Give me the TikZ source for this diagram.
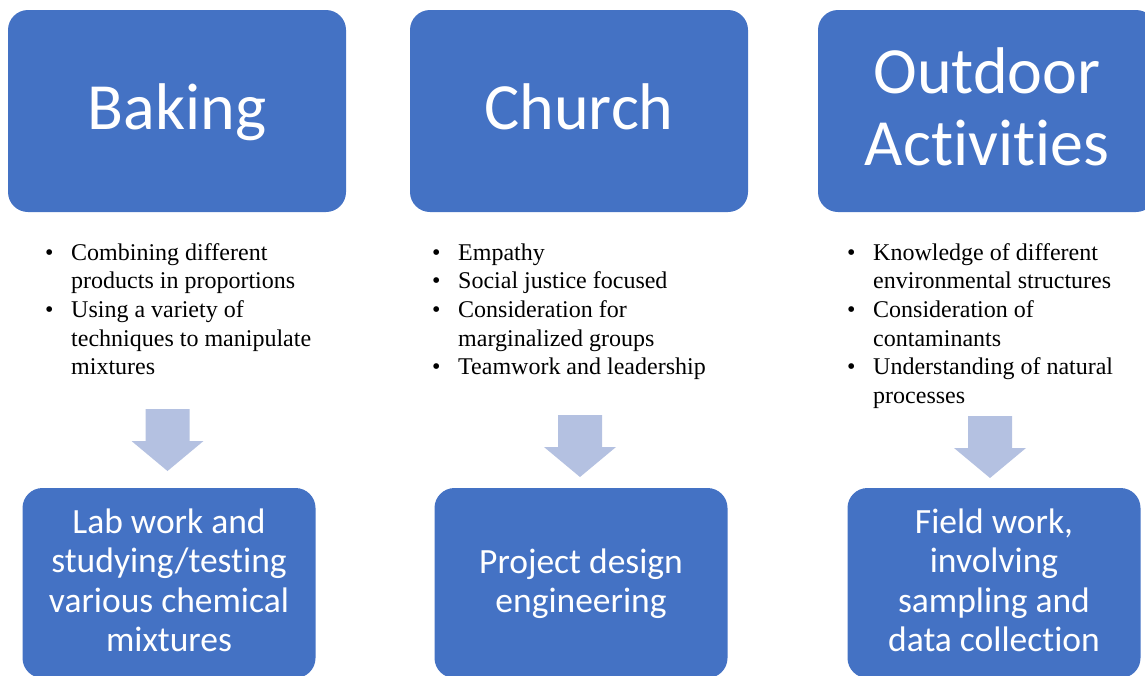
\documentclass[tikz,border=0pt]{standalone}
\usepackage{fontspec}
\setmainfont{Liberation Serif}
\newfontfamily\boxfont[Ligatures=NoCommon]{Carlito}
\definecolor{boxblue}{HTML}{4472C4}
\definecolor{arrowblue}{HTML}{B4C1E1}
% fixed-width bullet cell for the skill lists
\newcommand\itemdot{\makebox[26.2pt][l]{\textbullet}}

\begin{document}
\begin{tikzpicture}[x=1pt,y=-1pt,
  box/.style={fill=boxblue, draw=none, rounded corners=20pt, inner sep=0pt, text=white},
  topbox/.style={box, minimum width=338pt, minimum height=202pt,
                 font=\boxfont\fontsize{66}{72}\selectfont},
  botbox/.style={box, minimum width=293pt, minimum height=190pt,
                 font=\boxfont\fontsize{35.5}{39.5}\selectfont},
  skills/.style={anchor=base west, inner sep=0pt, font=\fontsize{24}{28.7}\selectfont},
  arrowfill/.style={fill=arrowblue}]

\useasboundingbox (0,0) rectangle (1145,675);
\clip (0,0) rectangle (1145,675);

% activity boxes
\node[topbox, text height=44pt, text depth=8pt] (baking) at (177,111) {Baking};
\node[topbox, text height=44pt, text depth=8pt] (church) at (579,111) {Church};
\node[topbox, text height=50pt, text depth=86pt] (outdoor) at (987,111)
  {\begin{tabular}[t]{@{}c@{}}Outdoor\\Activities\end{tabular}};

% skills gained from each activity
\node[skills] (bakingSkills) at (44.8,260) {\begin{tabular}[t]{@{}l@{}l@{}}
  \itemdot & Combining different\\
           & products in proportions\\
  \itemdot & Using a variety of\\
           & techniques to manipulate\\
           & mixtures
\end{tabular}};
\node[skills] (churchSkills) at (431.8,260) {\begin{tabular}[t]{@{}l@{}l@{}}
  \itemdot & Empathy\\
  \itemdot & Social justice focused\\
  \itemdot & Consideration for\\
           & marginalized groups\\
  \itemdot & Teamwork and leadership
\end{tabular}};
\node[skills] (outdoorSkills) at (846.8,260) {\begin{tabular}[t]{@{}l@{}l@{}}
  \itemdot & Knowledge of different\\
           & environmental structures\\
  \itemdot & Consideration of\\
           & contaminants\\
  \itemdot & Understanding of natural\\
           & processes
\end{tabular}};

% block arrows
\coordinate (arrA) at (167.5,409);
\coordinate (arrB) at (580,415);
\coordinate (arrC) at (990,416);
\foreach \a in {arrA,arrB,arrC}
  \fill[arrowfill] (\a) ++(-22,0) -- ++(44,0) -- ++(0,32) -- ++(14,0)
    -- ++(-36,30) -- ++(-36,-30) -- ++(14,0) -- cycle;

% resulting science work
\node[botbox, text height=28pt, text depth=128pt] (lab) at (169,583)
  {\begin{tabular}[t]{@{}c@{}}Lab work and\\studying/testing\\various chemical\\mixtures\end{tabular}};
\node[botbox, text height=28pt, text depth=48pt] (project) at (581,583)
  {\begin{tabular}[t]{@{}c@{}}Project design\\engineering\end{tabular}};
\node[botbox, text height=28pt, text depth=128pt] (field) at (994,583)
  {\begin{tabular}[t]{@{}c@{}}Field work,\\involving\\sampling and\\data collection\end{tabular}};
\end{tikzpicture}
\end{document}
